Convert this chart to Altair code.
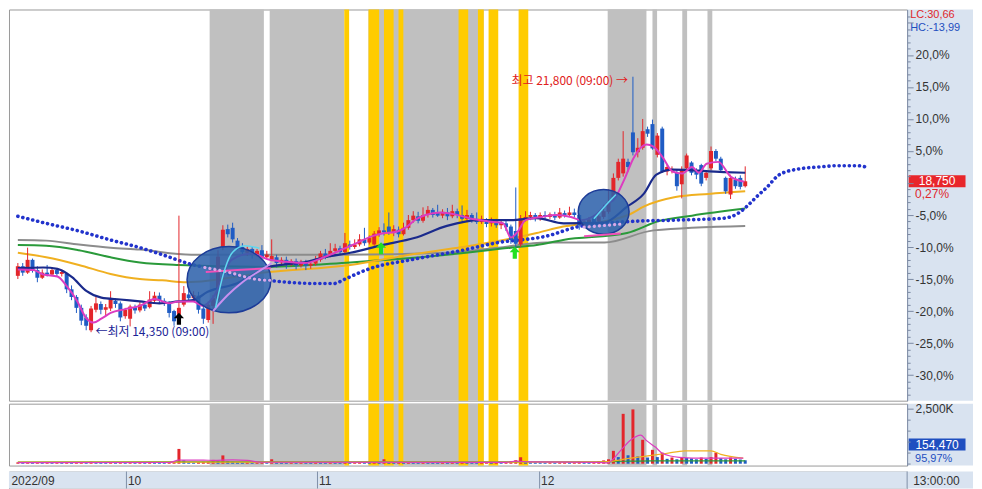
import altair as alt
import pandas as pd

# ---------------- data (price in % vs. base 18,700; volume in K) ----------------
open_pct = [-14.5, -13.0, -14.0, -12.0, -13.6, -14.8, -14.0, -14.3, -13.6, -14.2,
            -14.2, -16.6, -17.8, -19.5, -21.0, -23.0, -19.8, -18.9, -19.8, -19.6,
            -18.4, -18.8, -20.8, -21.2, -19.4, -19.9, -19.0, -19.4, -18.4, -17.6,
            -18.4, -18.8, -20.0, -20.6, -19.0, -17.4, -18.0, -17.6, -19.6, -21.4,
            -19.2, -18.2, -10.0, -7.2, -7.0, -9.0, -10.0, -10.9, -10.3, -11.2,
            -10.5, -11.6, -12.0, -11.6, -12.4, -12.0, -12.8, -12.2, -12.9, -12.4,
            -12.9, -12.6, -12.0, -11.0, -11.4, -10.6, -10.2, -10.8, -9.6, -10.0,
            -9.6, -8.8, -9.3, -9.6, -8.0, -7.4, -6.8, -7.8, -7.3, -8.0,
            -7.0, -5.8, -5.2, -5.9, -5.0, -4.2, -4.6, -5.1, -4.6, -5.2,
            -4.4, -5.0, -5.6, -5.0, -5.6, -6.1, -5.8, -6.3, -6.0, -6.6,
            -6.3, -6.8, -7.5, -9.6, -5.7, -5.3, -5.0, -5.6, -5.0, -5.3,
            -5.0, -5.4, -4.7, -5.0, -4.6, -5.0, -6.6, -6.2, -5.5, -6.0,
            -5.3, -4.5, -2.2, 0.8, 1.5, 3.3, 7.9, 4.8, 5.5, 8.4,
            9.2, 4.4, 8.5, 1.8, 1.9, 1.6, -0.2, 2.3, 3.2, 2.0,
            2.8, 0.8, 2.3, 5.0, 3.8, 0.8, -1.8, 0.5, 0.8, -0.5]
high_pct = [-12.5, -12.5, -10.1, -11.8, -13.0, -13.5, -12.8, -13.2, -13.3, -13.5,
            -14.0, -16.0, -17.5, -19.0, -20.5, -19.2, -17.8, -18.5, -18.9, -16.9,
            -18.0, -18.5, -19.5, -19.0, -19.0, -18.6, -18.5, -16.9, -17.0, -17.1,
            -18.0, -18.5, -19.8, -5.1, -16.1, -16.6, -16.9, -17.0, -19.0, -18.5,
            -17.5, -10.5, -6.6, -6.5, -6.2, -8.6, -9.4, -9.9, -10.0, -10.3,
            -9.7, -10.6, -8.8, -11.2, -11.6, -11.5, -11.9, -11.8, -12.0, -12.0,
            -12.3, -11.4, -10.6, -10.3, -9.4, -9.5, -9.8, -7.8, -9.0, -8.8,
            -8.0, -7.0, -8.2, -7.5, -6.9, -6.3, -4.6, -6.6, -6.8, -6.2,
            -5.0, -4.4, -4.5, -3.8, -3.6, -3.9, -3.4, -4.1, -3.9, -3.4,
            -4.0, -3.5, -4.2, -4.7, -4.6, -5.1, -5.5, -5.4, -5.6, -5.8,
            -5.9, -6.5, -0.7, -5.0, -4.4, -4.5, -4.7, -4.6, -4.4, -4.6,
            -4.5, -3.9, -4.3, -3.7, -4.0, -4.8, -5.6, -5.3, -5.0, -4.5,
            -3.4, -1.0, 1.5, 3.8, 8.1, 3.8, 16.6, 7.0, 10.0, 8.8,
            9.9, 7.8, 8.8, 2.9, 2.6, 2.0, 2.6, 4.6, 3.4, 2.3,
            3.0, 2.0, 5.7, 5.3, 4.1, 1.0, 1.3, 1.0, 1.2, 2.6]
low_pct = [-15.0, -14.5, -14.2, -14.0, -15.5, -15.0, -14.6, -14.5, -14.6, -14.6,
           -17.2, -18.3, -20.3, -22.2, -23.0, -23.3, -20.2, -20.5, -20.8, -20.0,
           -19.5, -21.6, -21.2, -22.4, -20.4, -20.2, -20.0, -19.6, -18.8, -18.9,
           -19.2, -21.0, -22.3, -20.8, -19.3, -18.4, -18.3, -20.4, -22.0, -21.8,
           -22.0, -18.5, -10.5, -8.5, -9.3, -10.5, -11.3, -11.4, -11.8, -11.5,
           -12.0, -11.8, -12.2, -13.2, -12.9, -13.4, -13.0, -13.5, -13.2, -13.6,
           -13.4, -12.9, -12.3, -11.9, -11.6, -11.0, -11.2, -11.0, -10.4, -10.3,
           -9.9, -9.8, -9.6, -9.8, -8.4, -8.2, -8.1, -8.3, -8.5, -8.2,
           -7.3, -6.2, -6.3, -6.2, -5.4, -5.4, -5.3, -5.5, -5.8, -5.5,
           -5.5, -5.9, -6.0, -6.2, -6.4, -6.4, -6.9, -6.8, -7.0, -7.2,
           -7.5, -9.5, -10.5, -10.0, -6.0, -5.8, -6.0, -5.9, -5.7, -5.6,
           -5.8, -5.6, -5.4, -5.3, -5.4, -7.3, -7.0, -6.6, -6.6, -6.4,
           -5.6, -4.8, -2.5, 0.4, 1.0, 1.8, 4.3, 4.0, 5.2, 7.2,
           5.2, 4.0, 1.6, 1.2, 1.5, -1.2, -2.4, 2.0, 1.2, 0.6,
           -0.5, 0.4, 2.0, 3.4, 1.6, -1.7, -2.5, -0.9, -1.0, -0.7]
close_pct = [-13.0, -14.0, -12.0, -13.6, -14.8, -14.0, -14.3, -13.6, -14.2, -13.9,
             -16.6, -17.8, -19.5, -21.5, -22.3, -19.6, -18.8, -19.8, -19.4, -18.2,
             -18.9, -21.0, -19.8, -19.3, -19.9, -19.0, -19.6, -18.2, -17.6, -18.4,
             -18.7, -20.3, -21.6, -19.5, -17.2, -18.0, -17.5, -19.8, -21.2, -19.0,
             -18.0, -11.5, -7.3, -8.0, -8.8, -10.0, -10.8, -10.3, -11.2, -10.6,
             -11.6, -11.2, -11.4, -12.5, -12.0, -12.8, -12.2, -12.9, -12.4, -12.9,
             -12.6, -12.0, -11.0, -11.5, -10.6, -10.2, -10.8, -9.4, -10.0, -9.6,
             -8.8, -9.4, -8.6, -7.9, -7.4, -7.7, -7.8, -7.2, -8.0, -7.0,
             -5.8, -5.1, -5.9, -5.0, -4.2, -5.0, -5.1, -4.5, -5.2, -4.4,
             -5.0, -5.6, -5.0, -5.7, -6.1, -5.6, -6.4, -6.0, -6.6, -6.2,
             -6.9, -8.9, -9.5, -5.5, -5.3, -5.0, -5.6, -5.0, -5.3, -4.9,
             -5.4, -4.6, -5.0, -4.6, -5.0, -6.6, -6.0, -5.7, -6.2, -5.2,
             -4.4, -3.0, 0.8, 3.3, 3.8, 2.5, 4.8, 5.5, 8.1, 7.7,
             5.4, 7.4, 1.8, 2.5, 2.2, -0.5, 2.1, 4.3, 1.6, 1.3,
             -0.1, 1.6, 5.0, 3.8, 2.0, -1.3, 0.8, -0.5, -0.6, 0.27]
volume_k = [60, 45, 70, 40, 55, 35, 50, 40, 45, 38,
            55, 48, 62, 70, 66, 90, 60, 45, 40, 58,
            35, 52, 40, 60, 38, 42, 36, 55, 44, 40,
            35, 48, 70, 667, 150, 60, 45, 70, 85, 95,
            170, 140, 375, 120, 90, 60, 50, 55, 45, 60,
            70, 55, 200, 80, 50, 45, 60, 40, 55, 48,
            42, 60, 55, 45, 60, 50, 44, 70, 40, 52,
            60, 55, 48, 80, 70, 200, 75, 60, 85, 55,
            70, 60, 52, 65, 58, 50, 45, 60, 55, 62,
            48, 70, 65, 50, 44, 55, 60, 48, 52, 45,
            55, 120, 160, 290, 90, 60, 55, 50, 45, 52,
            40, 48, 55, 45, 50, 90, 70, 60, 80, 120,
            150, 200, 580, 300, 2250, 380, 2450, 330, 1080, 280,
            625, 300, 500, 220, 280, 200, 300, 260, 240, 200,
            280, 220, 300, 500, 250, 200, 280, 220, 190, 154.47]

ma5_idx = [0, 3.2, 5.2, 8.1, 10.1, 12.1, 14.1, 15.5, 17.1, 19.0, 22.0, 25.0, 28.0, 31.0, 32.9,
           35.9, 37.9, 39.9, 43.8, 47.8, 51.6, 54.8, 58.7, 62.7, 66.7, 69.6, 72.6, 74.6, 77.6, 79.6,
           81.5, 83.5, 86.5, 89.5, 92.5, 96.4, 99.4, 101.0, 102.4, 104.0, 107.3, 110.3, 113.3, 115.3, 118.3,
           120.6, 122.2, 124.2, 126.2, 128.8, 130.2, 132.1, 134.1, 136.1, 138.1, 139.5, 141.1, 143.5, 146.0, 148.8]
ma5_pct = [-13.5, -13.6, -14.3, -14.6, -16.2, -18.4, -21.2, -21.8, -21.2, -20.3, -19.7, -19.2, -18.1, -18.8, -18.5,
           -18.5, -19.2, -18.0, -12.0, -11.0, -12.0, -12.3, -12.5, -11.6, -10.3, -9.3, -8.3, -7.9, -7.6, -6.9,
           -5.7, -5.0, -4.6, -4.9, -5.5, -6.0, -6.3, -8.5, -7.6, -5.8, -5.3, -5.0, -5.3, -5.8, -5.0,
           -3.3, -2.5, 0.5, 4.0, 6.0, 5.7, 4.0, 1.8, 1.5, 2.5, 1.6, 3.0, 3.3, 1.0, 0.2]
ma20_idx = [0, 5.2, 8.1, 11.1, 14.1, 17.1, 21.0, 25.0, 29.0, 32.9, 35.9, 38.9, 44.8, 51.4, 54.8, 58.7,
            62.7, 68.1, 74.6, 81.2, 87.9, 94.4, 101.0, 106.3, 111.8, 120.0, 124.8, 128.2, 130.8, 134.1, 144.6, 149.0]
ma20_pct = [-13.3, -13.2, -13.4, -14.7, -16.9, -17.9, -18.2, -18.5, -18.8, -18.5, -18.3, -17.0, -15.7, -13.1, -12.7, -12.4,
            -11.6, -10.9, -9.7, -8.6, -6.7, -5.8, -5.8, -5.5, -6.3, -6.2, -3.7, -1.7, 1.3, 2.1, 1.7, 1.6]
ma60_idx = [0, 5.8, 12.5, 19.0, 25.0, 29.6, 34.5, 51.4, 68.1, 81.2, 91.1, 101.0, 106.3, 111.7, 120.0,
            125.6, 128.2, 134.7, 141.5, 149.0]
ma60_pct = [-10.9, -11.6, -12.8, -14.2, -15.0, -15.2, -15.5, -13.9, -12.8, -11.1, -10.0, -8.7, -7.8, -6.8, -6.0,
            -4.8, -3.7, -2.2, -1.7, -1.3]
ma120_idx = [0, 5.8, 12.5, 19.0, 25.0, 33.0, 51.4, 68.1, 87.9, 101.0, 106.3, 111.7, 124.8, 131.5, 138.1, 149.0]
ma120_pct = [-9.7, -9.8, -10.5, -11.6, -12.4, -12.8, -13.1, -12.4, -11.2, -10.1, -9.7, -8.9, -7.8, -5.9, -5.1, -4.0]
ma240_idx = [0, 5.8, 12.5, 19.0, 25.0, 35.5, 51.4, 66.7, 87.9, 98.4, 108.3, 120.2, 130.2, 149.0]
ma240_pct = [-8.9, -9.0, -9.6, -10.1, -10.4, -11.2, -11.2, -11.2, -10.9, -10.1, -9.3, -9.3, -7.4, -6.7]
sar_idx = [0, 5.8, 12.5, 19.0, 25.0, 29.6, 35.5, 38.3, 44.0, 51.4, 61.3, 64.7, 67.3, 72.0, 81.2, 91.1,
           98.4, 108.3, 114.9, 125.6, 134.7, 144.6, 147.4, 149.4, 151.4, 153.4, 156.0, 160.0, 164.0, 168.0, 172.0, 174.2]
sar_pct = [-5.2, -6.3, -7.5, -8.9, -10.1, -11.2, -12.7, -13.2, -14.3, -15.2, -15.7, -15.7, -14.9, -13.4, -11.9, -10.5,
           -9.3, -8.3, -6.8, -6.0, -5.8, -5.5, -4.8, -3.6, -2.1, -0.7, 1.3, 2.2, 2.5, 2.7, 2.7, 2.4]

vol_green_idx = [0, 60, 118, 124, 130, 149]
vol_green_k = [75, 80, 80, 110, 130, 130]
vol_ma5_idx = [0, 31, 33, 38, 40, 44, 47, 50, 100, 102, 105, 119, 120.8, 123.6, 125.6, 127.6, 128.8,
               130.6, 132.1, 135.5, 140.7, 148.6]
vol_ma5_k = [50, 55, 160, 160, 150, 170, 150, 65, 60, 120, 80, 60, 40, 625, 1080, 1290, 1040,
             750, 460, 290, 250, 250]
vol_ma20_idx = [0, 100, 120, 125.6, 132.7, 136.7, 142.0, 144.0, 148.6]
vol_ma20_k = [70, 75, 80, 250, 460, 580, 580, 420, 250]

gray_start = [39.29, 51.59, 71.83, 120.83, 130.0, 136.11, 141.27]
gray_end = [50.40, 66.87, 95.44, 128.77, 130.95, 137.10, 142.26]
yellow_start = [66.87, 71.83, 75.00, 77.98, 90.28, 94.25, 96.43, 102.58]
yellow_end = [67.86, 74.01, 76.98, 78.97, 92.26, 95.44, 98.41, 104.56]

ellipse_idx = [43.25, 120.0]
ellipse_pct = [-15.1, -4.5]
ell1_pink_idx, ell1_pink_pct = [38.5, 45.0, 51.8], [-13.9, -13.6, -13.3]
ell1_lav_idx, ell1_lav_pct = [38.3, 42.9, 49.4, 52.0], [-13.2, -13.9, -15.1, -15.2]
ell1_violet_idx, ell1_violet_pct = [40.0, 43.0, 46.0, 50.0, 52.0], [-20.0, -17.5, -15.5, -13.5, -12.5]
ell1_cyan_idx, ell1_cyan_pct = [40.5, 42.0, 44.0, 46.5, 49.5], [-19.5, -14.5, -10.8, -9.8, -10.2]
ell2_pink_idx, ell2_pink_pct = [116.0, 123.5], [-8.3, -7.9]
ell2_lav_idx, ell2_lav_pct = [116.0, 124.0], [-6.9, -6.4]
ell2_cyan_idx, ell2_cyan_pct = [118.0, 121.0, 122.5], [-5.6, -3.0, -1.8]

black_arrow_idx, black_arrow_pct = [33.0], [-21.2]
green_arrow_idx, green_arrow_pct = [74.4, 101.8], [-10.2, -10.9]

low_note = {"i": [15.9], "p": [-23.3], "t": ["←최저 14,350 (09:00)"]}
high_note = {"i": [125.0], "p": [16.0], "t": ["최고 21,800 (09:00) →"]}

month_sep_idx = [23.0, 61.7, 106.7]
month_label_idx = [-0.3, 23.3, 62.0, 107.0]
month_labels = ["2022/09", "10", "11", "12"]

lc_label, hc_label = "LC:30,66", "HC:-13,99"
last_price_label, last_pct_label = "18,750", "0,27%"
last_vol_label, last_vol_pct_label = "154,470", "95,97%"
time_label = "13:00:00"

# ---------------- styling ----------------
RED = "#e3262b"
BLUE = "#1f5cc4"
GRAY_BAND = "#c0c0c0"
YELLOW_BAND = "#ffcc00"
AXIS_BG = "#d9e3f0"
AX = "#7b8aa3"
W, HP, HV, HD = 900, 392, 62, 17

xs = alt.Scale(domain=[-0.79, 181.15], nice=False, zero=False)
ys = alt.Scale(domain=[-34.0, 27.1], nice=False, zero=False)
vs = alt.Scale(domain=[-83, 2708], nice=False, zero=False)

price_axis = alt.Axis(
    orient="right", title=None, grid=False, values=list(range(-33, 27)),
    labelExpr="(datum.value % 5 === 0 && datum.value !== 0 && datum.value <= 20) ? (datum.value < 0 ? '-' : '') + replace(format(abs(datum.value), '.1f'), '.', ',') + '%' : ''",
    tickSize={"condition": {"test": "datum.value % 5 === 0", "value": 6}, "value": 3},
    tickColor=AX, domainColor=AX, labelColor="#333333", labelFont="Liberation Sans",
    labelFontSize=12, labelPadding=2, labelOverlap=False, labelFlush=False, zindex=1)
vol_axis = alt.Axis(
    orient="right", title=None, grid=False, values=[0, 500, 1000, 1500, 2000, 2500],
    labelExpr="datum.value === 2500 ? '2,500K' : ''",
    tickSize={"condition": {"test": "datum.value === 2500", "value": 6}, "value": 3},
    tickColor=AX, domainColor=AX, labelColor="#333333", labelFont="Liberation Sans",
    labelFontSize=12, labelPadding=2, labelOverlap=False, labelFlush=False, zindex=1)


def X(f):
    return alt.X(f, type="quantitative", scale=xs, axis=None)


def YP(f):
    return alt.Y(f, type="quantitative", scale=ys, axis=price_axis)


def YV(f):
    return alt.Y(f, type="quantitative", scale=vs, axis=vol_axis)


one = pd.DataFrame({"t": [""]})

candle_df = pd.DataFrame({"i": list(range(len(close_pct))), "o": open_pct, "h": high_pct,
                          "l": low_pct, "c": close_pct, "v": volume_k})
cbase = alt.Chart(candle_df).transform_calculate(dir="datum.c >= datum.o ? 'up' : 'down'")
updown = alt.Scale(domain=["up", "down"], range=[RED, BLUE])


def bands(starts, ends, color):
    return alt.Chart(pd.DataFrame({"s": starts, "e": ends})).mark_rect(color=color).encode(
        x=X("s"), x2="e")


def pline(idx, vals, color, width=2.0, **kw):
    return alt.Chart(pd.DataFrame({"i": idx, "p": vals})).mark_line(
        color=color, strokeWidth=width, interpolate="monotone", **kw).encode(x=X("i"), y=YP("p"))


def vline(idx, vals, color, width=1.2):
    return alt.Chart(pd.DataFrame({"i": idx, "k": vals})).mark_line(
        color=color, strokeWidth=width, interpolate="monotone").encode(x=X("i"), y=YV("k"))


def ptext(txt, xpx, ypx, color, align="left", size=12):
    return alt.Chart(pd.DataFrame({"t": [txt]})).mark_text(
        align=align, baseline="middle", font="Liberation Sans", fontSize=size, color=color).encode(
        text="t:N", x=alt.value(xpx), y=alt.value(ypx))


ELL1 = "M-1,0A1,0.79,0,1,1,1,0A1,0.79,0,1,1,-1,0Z"
ELL2 = "M-1,0A1,0.88,0,1,1,1,0A1,0.88,0,1,1,-1,0Z"
ARROW = "M0,-1L0.85,-0.1L0.35,-0.1L0.35,1L-0.35,1L-0.35,-0.1L-0.85,-0.1Z"

# ---------------- price panel ----------------
axis_bg_p = alt.Chart(one).mark_rect(color=AXIS_BG).encode(
    x=alt.value(W), x2=alt.value(W + 66), y=alt.value(0), y2=alt.value(HP))
wicks = cbase.mark_rule(strokeWidth=1).encode(
    x=X("i"), y=YP("l"), y2="h", color=alt.Color("dir:N", scale=updown, legend=None))
bodies = cbase.mark_bar(size=4).encode(
    x=X("i"), y=YP("o"), y2="c", color=alt.Color("dir:N", scale=updown, legend=None))

ell1 = alt.Chart(pd.DataFrame({"i": [ellipse_idx[0]], "p": [ellipse_pct[0]]})).mark_point(
    shape=ELL1, size=7056, filled=True, color="#2b60aa", fillOpacity=0.86,
    stroke="#1d3c98", strokeWidth=1.5, strokeOpacity=1).encode(x=X("i"), y=YP("p"))
ell2 = alt.Chart(pd.DataFrame({"i": [ellipse_idx[1]], "p": [ellipse_pct[1]]})).mark_point(
    shape=ELL2, size=2601, filled=True, color="#2b60aa", fillOpacity=0.86,
    stroke="#1d3c98", strokeWidth=1.5, strokeOpacity=1).encode(x=X("i"), y=YP("p"))

dots = dict(strokeDash=[0.1, 5], strokeCap="round")
black_arrow = alt.Chart(pd.DataFrame({"i": black_arrow_idx, "p": black_arrow_pct})).mark_point(
    shape=ARROW, size=144, filled=True, color="black", opacity=1).encode(x=X("i"), y=YP("p"))
green_arrow = alt.Chart(pd.DataFrame({"i": green_arrow_idx, "p": green_arrow_pct})).mark_point(
    shape=ARROW, size=144, filled=True, color="#22e022", opacity=1).encode(x=X("i"), y=YP("p"))

low_txt = alt.Chart(pd.DataFrame(low_note)).mark_text(
    align="left", baseline="middle", font="Noto Sans CJK KR", fontSize=12, color="#1a2496").encode(
    x=X("i"), y=YP("p"), text="t:N")
high_txt = alt.Chart(pd.DataFrame(high_note)).mark_text(
    align="right", baseline="middle", font="Noto Sans CJK KR", fontSize=12, color="#e02020").encode(
    x=X("i"), y=YP("p"), text="t:N")

last_df = candle_df.iloc[[-1]]
price_box = alt.Chart(last_df).mark_tick(orient="horizontal", size=57, thickness=12,
                                          color="#e8262b", opacity=1).encode(
    x=alt.value(W + 30), y=YP("c"))
price_box_txt = alt.Chart(last_df.assign(t=last_price_label)).mark_text(
    align="center", baseline="middle", font="Liberation Sans", fontSize=12, color="white").encode(
    x=alt.value(W + 30), y=YP("c"), text="t:N")
pct_txt = alt.Chart(last_df.assign(t=last_pct_label)).mark_text(
    align="left", baseline="middle", font="Liberation Sans", fontSize=12, color="#e0262b", dy=13).encode(
    x=alt.value(W + 8), y=YP("c"), text="t:N")

price = alt.layer(
    axis_bg_p,
    bands(gray_start, gray_end, GRAY_BAND),
    bands(yellow_start, yellow_end, YELLOW_BAND),
    pline(ma240_idx, ma240_pct, "#8c8c8c"),
    pline(ma120_idx, ma120_pct, "#2a9a3a"),
    pline(ma60_idx, ma60_pct, "#f0b020"),
    pline(sar_idx, sar_pct, "#2233cc", 3.6, **dots),
    wicks, bodies,
    pline(ma20_idx, ma20_pct, "#1a2a8c", 2.2),
    pline(ma5_idx, ma5_pct, "#dc3cc0"),
    ell1, ell2,
    pline(ell1_pink_idx, ell1_pink_pct, "#f050b8"),
    pline(ell1_lav_idx, ell1_lav_pct, "#d8a8e8", 3.2, **dots),
    pline(ell1_violet_idx, ell1_violet_pct, "#c890f0"),
    pline(ell1_cyan_idx, ell1_cyan_pct, "#60d8f0", 1.5),
    pline(ell2_pink_idx, ell2_pink_pct, "#f050b8"),
    pline(ell2_lav_idx, ell2_lav_pct, "#d8a8e8", 3.2, **dots),
    pline(ell2_cyan_idx, ell2_cyan_pct, "#60d8f0", 1.5),
    black_arrow, green_arrow, low_txt, high_txt,
    ptext(lc_label, W + 3, 6, "#e0262b", size=11),
    ptext(hc_label, W + 3, 19, "#1f4fbf", size=11),
    price_box, price_box_txt, pct_txt,
).properties(width=W, height=HP)

# ---------------- volume panel ----------------
axis_bg_v = alt.Chart(one).mark_rect(color=AXIS_BG).encode(
    x=alt.value(W), x2=alt.value(W + 66), y=alt.value(0), y2=alt.value(HV))
vbars = cbase.transform_window(prev="lag(v)", sort=[alt.SortField("i")]).transform_calculate(
    vdir="(datum.prev == null || datum.v >= datum.prev) ? 'up' : 'down'").mark_bar(size=3).encode(
    x=X("i"), y=YV("v"), y2=alt.datum(0),
    color=alt.Color("vdir:N", scale=updown, legend=None))
vol_box = alt.Chart(one).mark_tick(orient="horizontal", size=57, thickness=12,
                                   color="#1f4fc0", opacity=1).encode(
    x=alt.value(W + 30), y=alt.value(41))

volume = alt.layer(
    axis_bg_v,
    bands(gray_start, gray_end, GRAY_BAND),
    bands(yellow_start, yellow_end, YELLOW_BAND),
    vbars,
    vline(vol_green_idx, vol_green_k, "#2a9a3a"),
    vline(vol_ma20_idx, vol_ma20_k, "#f0b020"),
    vline(vol_ma5_idx, vol_ma5_k, "#dc3cc0"),
    vol_box,
    ptext(last_vol_label, W + 30, 41, "white", align="center"),
    ptext(last_vol_pct_label, W + 8, 55, "#1f4fc0", size=11),
).properties(width=W, height=HV)

# ---------------- date band ----------------
date_bg = alt.Chart(one).mark_rect(color=AXIS_BG).encode(
    x=alt.value(0), x2=alt.value(W + 66), y=alt.value(0), y2=alt.value(HD))
seps = alt.Chart(pd.DataFrame({"s": month_sep_idx})).mark_rule(color="#8090a8").encode(
    x=X("s"), y=alt.value(0), y2=alt.value(HD))
axis_sep = alt.Chart(one).mark_rule(color="#8090a8").encode(
    x=alt.value(W), y=alt.value(0), y2=alt.value(HD))
mlabels = alt.Chart(pd.DataFrame({"i": month_label_idx, "t": month_labels})).mark_text(
    align="left", baseline="middle", font="Liberation Sans", fontSize=12, color="#333333").encode(
    x=X("i"), y=alt.value(HD / 2 + 1), text="t:N")

dates = alt.layer(
    date_bg, seps, axis_sep, mlabels,
    ptext(time_label, W + 6, HD / 2 + 1, "#333333"),
).properties(width=W, height=HD)

chart = alt.vconcat(price, volume, dates, spacing=0).properties(
    padding=0, background="white").configure_view(stroke="#9a9a9a", strokeWidth=1)

chart.save("out.html", embed_options={"renderer": "svg", "actions": False})
